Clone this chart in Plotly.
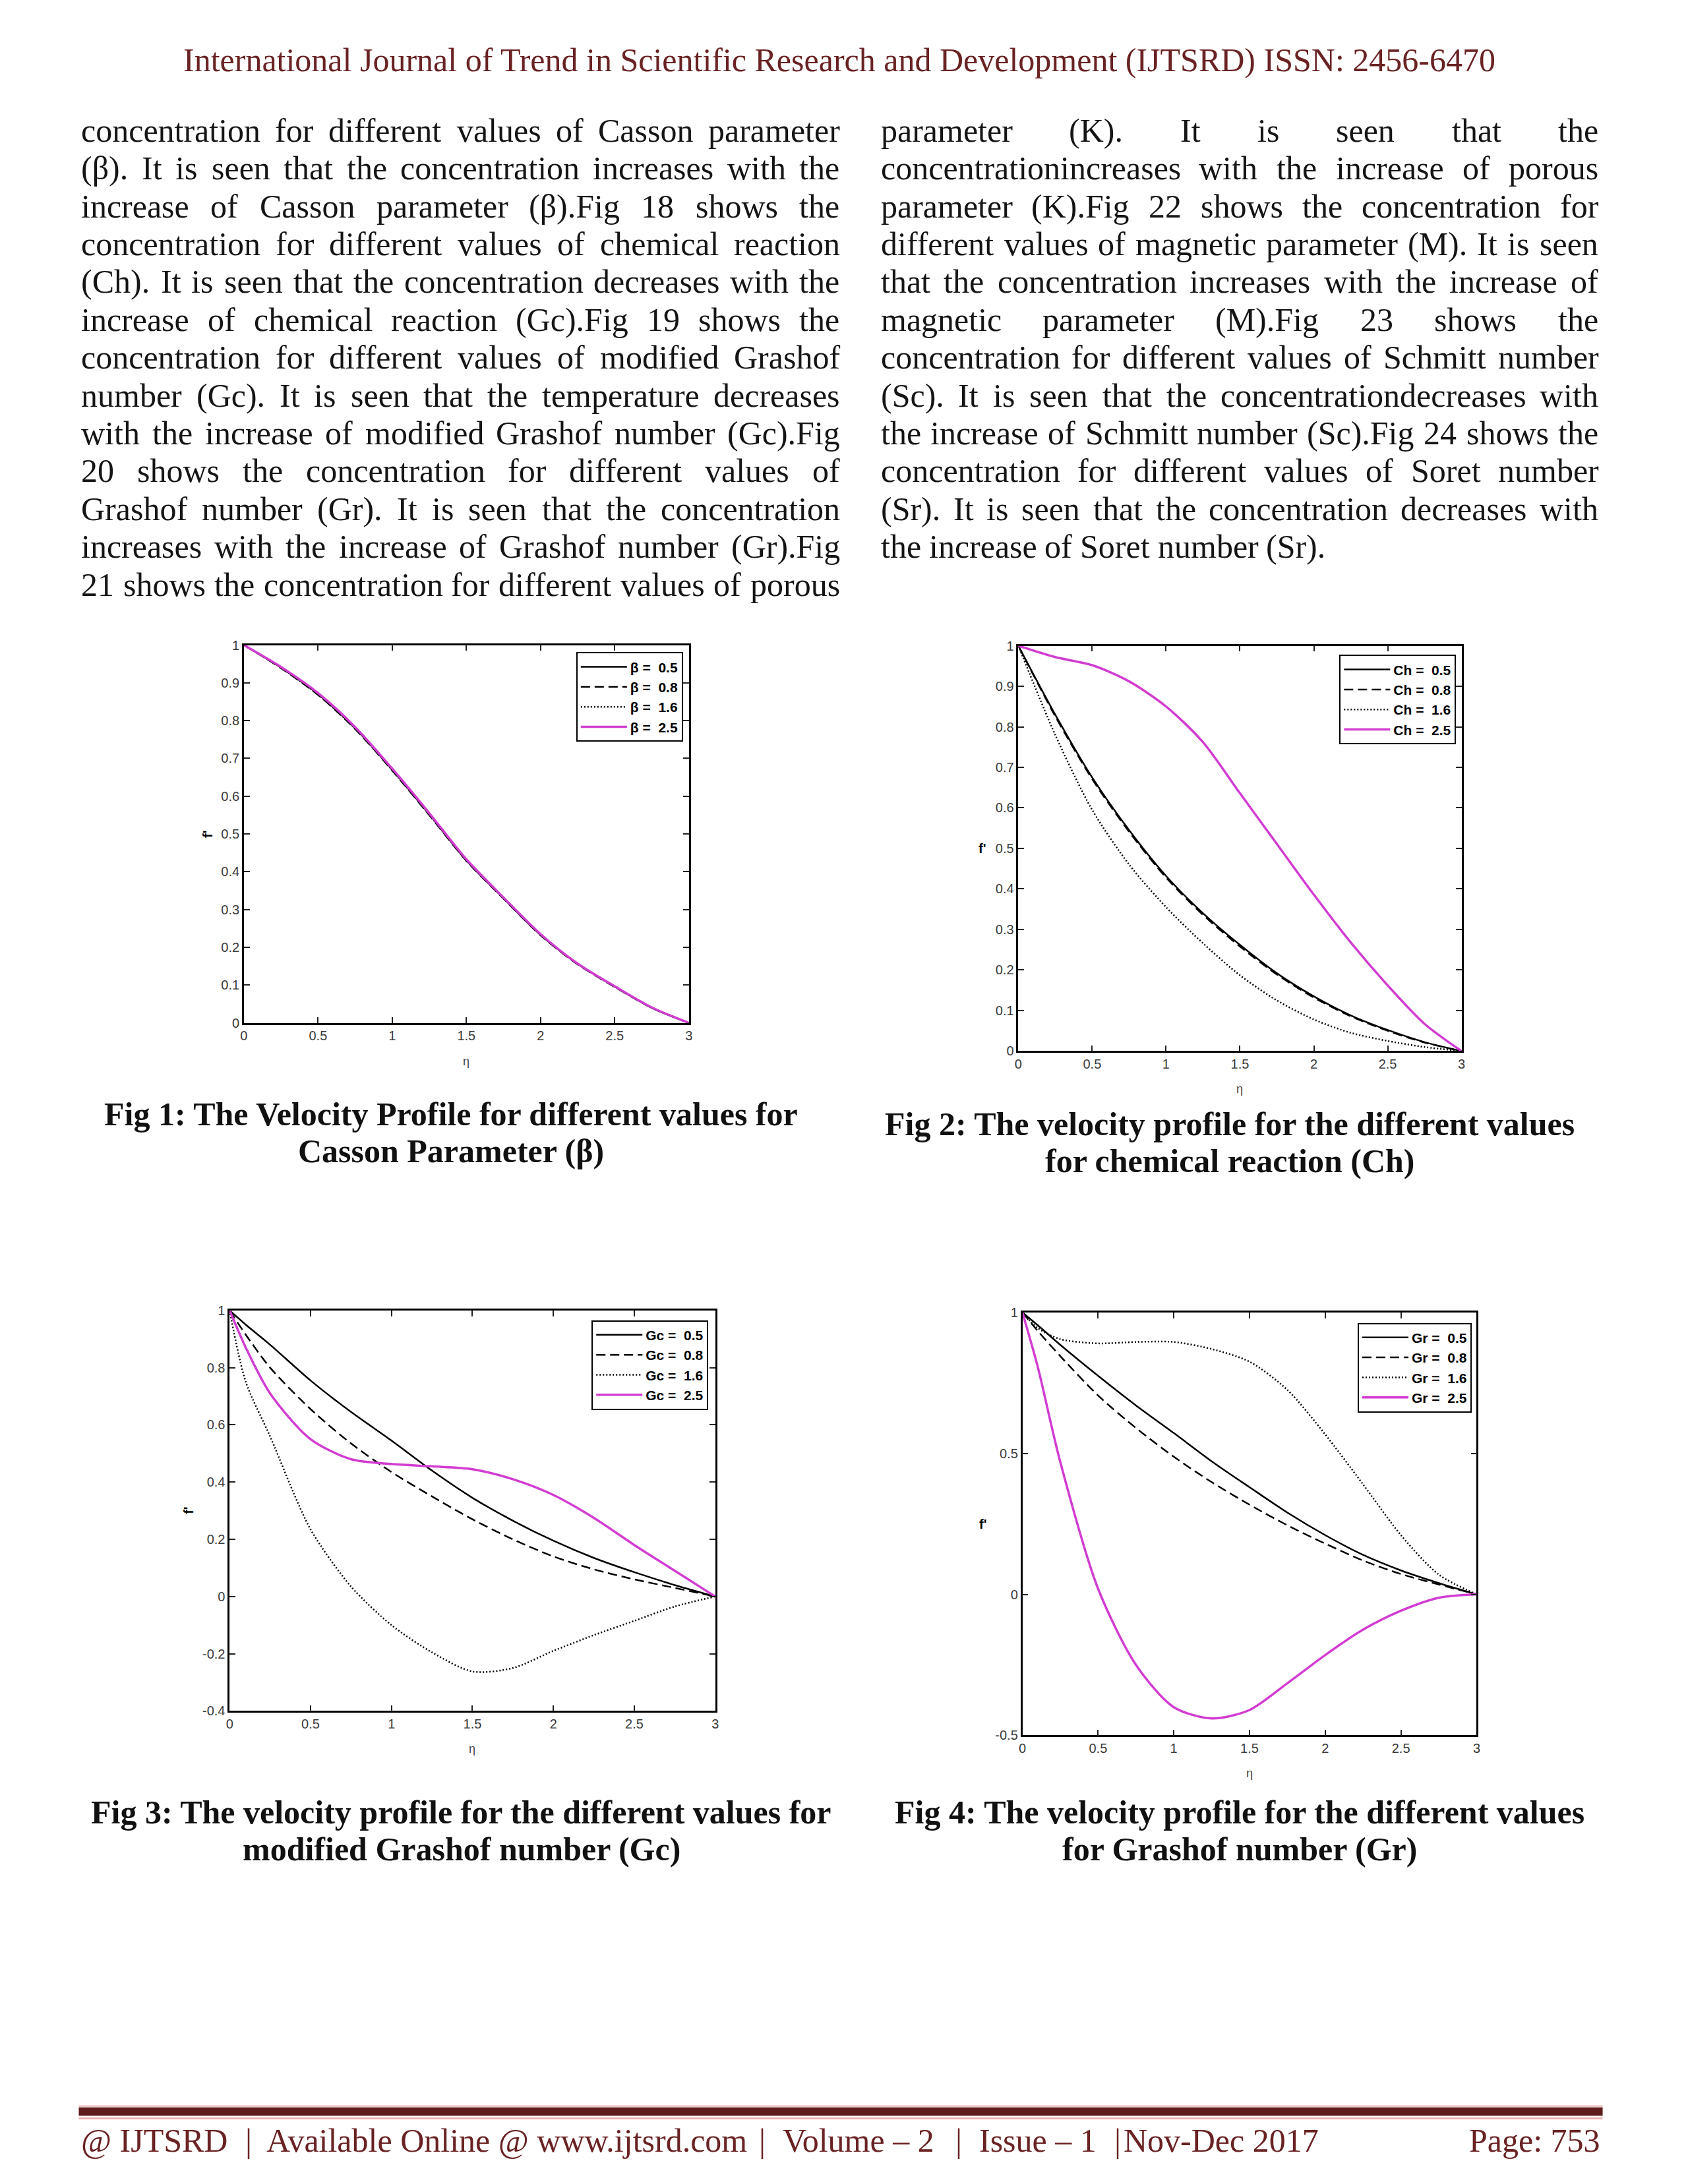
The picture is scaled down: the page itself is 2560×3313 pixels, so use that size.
import plotly.graph_objects as go

# ---------------- DATA ----------------
ETA_A = [0, 0.25, 0.5, 0.75, 1, 1.25, 1.5, 1.75, 2, 2.25, 2.5, 2.75, 3]
ETA_B = [0, 0.1, 0.25, 0.5, 0.75, 1, 1.25, 1.5, 1.75, 2, 2.25, 2.5, 2.75, 3]

# Fig 1 : Casson parameter beta
BETA_LABELS = ["β =  0.5", "β =  0.8", "β =  1.6", "β =  2.5"]
BETA_05 = [1.0, 0.940, 0.870, 0.780, 0.670, 0.552, 0.430, 0.330, 0.233, 0.156, 0.096, 0.040, 0.0]
BETA_08 = [1.0, 0.939, 0.868, 0.778, 0.668, 0.550, 0.429, 0.329, 0.232, 0.155, 0.095, 0.040, 0.0]
BETA_16 = [1.0, 0.940, 0.869, 0.779, 0.669, 0.551, 0.430, 0.330, 0.233, 0.156, 0.096, 0.040, 0.0]
BETA_25 = [1.0, 0.942, 0.873, 0.783, 0.673, 0.555, 0.433, 0.332, 0.235, 0.157, 0.097, 0.041, 0.0]

# Fig 2 : chemical reaction Ch
CH_LABELS = ["Ch =  0.5", "Ch =  0.8", "Ch =  1.6", "Ch =  2.5"]
CH_05 = [1.0, 0.830, 0.675, 0.545, 0.432, 0.340, 0.262, 0.192, 0.135, 0.088, 0.052, 0.022, 0.0]
CH_08 = [1.0, 0.826, 0.671, 0.541, 0.428, 0.336, 0.258, 0.189, 0.132, 0.086, 0.050, 0.021, 0.0]
CH_16 = [1.0, 0.780, 0.595, 0.460, 0.355, 0.266, 0.187, 0.125, 0.078, 0.045, 0.025, 0.010, 0.0]
CH_25 = [1.0, 0.972, 0.952, 0.912, 0.850, 0.762, 0.636, 0.511, 0.386, 0.268, 0.162, 0.067, 0.0]

# Fig 3 : modified Grashof number Gc
GC_LABELS = ["Gc =  0.5", "Gc =  0.8", "Gc =  1.6", "Gc =  2.5"]
GC_05 = [1.0, 0.950, 0.880, 0.755, 0.645, 0.545, 0.440, 0.345, 0.265, 0.195, 0.135, 0.085, 0.040, 0.0]
GC_08 = [1.0, 0.915, 0.800, 0.655, 0.535, 0.435, 0.350, 0.270, 0.200, 0.140, 0.095, 0.060, 0.030, 0.0]
GC_16 = [1.0, 0.750, 0.560, 0.235, 0.035, -0.100, -0.195, -0.262, -0.250, -0.190, -0.135, -0.085, -0.035, 0.0]
GC_25 = [1.0, 0.870, 0.710, 0.550, 0.480, 0.463, 0.455, 0.445, 0.410, 0.355, 0.275, 0.180, 0.090, 0.0]

# Fig 4 : Grashof number Gr
GR_LABELS = ["Gr =  0.5", "Gr =  0.8", "Gr =  1.6", "Gr =  2.5"]
GR_05 = [1.0, 0.955, 0.885, 0.775, 0.670, 0.572, 0.472, 0.380, 0.290, 0.210, 0.140, 0.085, 0.040, 0.0]
GR_08 = [1.0, 0.935, 0.845, 0.705, 0.590, 0.488, 0.398, 0.318, 0.245, 0.180, 0.120, 0.072, 0.035, 0.0]
GR_16 = [1.0, 0.945, 0.905, 0.890, 0.895, 0.895, 0.870, 0.825, 0.725, 0.567, 0.390, 0.210, 0.070, 0.0]
GR_25 = [1.0, 0.810, 0.470, 0.020, -0.250, -0.400, -0.440, -0.410, -0.315, -0.215, -0.125, -0.058, -0.012, 0.0]

X_TICKS = [0, 0.5, 1, 1.5, 2, 2.5, 3]
X_TICK_TEXT = ["0", "0.5", "1", "1.5", "2", "2.5", "3"]
Y_TICKS_01 = [0, 0.1, 0.2, 0.3, 0.4, 0.5, 0.6, 0.7, 0.8, 0.9, 1]
Y_TICK_TEXT_01 = ["0", "0.1", "0.2", "0.3", "0.4", "0.5", "0.6", "0.7", "0.8", "0.9", "1"]
Y_TICKS_GC = [-0.4, -0.2, 0, 0.2, 0.4, 0.6, 0.8, 1]
Y_TICK_TEXT_GC = ["-0.4", "-0.2", "0", "0.2", "0.4", "0.6", "0.8", "1"]
Y_TICKS_GR = [-0.5, 0, 0.5, 1]
Y_TICK_TEXT_GR = ["-0.5", "0", "0.5", "1"]

HEADER = "International Journal of Trend in Scientific Research and Development (IJTSRD) ISSN: 2456-6470"

LEFT_LINES = [
    "concentration for different values of Casson parameter",
    "(β). It is seen that the concentration increases with the",
    "increase of Casson parameter (β).Fig 18 shows the",
    "concentration for different values of chemical reaction",
    "(Ch). It is seen that the concentration decreases with the",
    "increase of chemical reaction (Gc).Fig 19 shows the",
    "concentration for different values of modified Grashof",
    "number (Gc). It is seen that the temperature decreases",
    "with the increase of modified Grashof number (Gc).Fig",
    "20 shows the concentration for different values of",
    "Grashof number (Gr). It is seen that the concentration",
    "increases with the increase of Grashof number (Gr).Fig",
    "21 shows the concentration for different values of porous",
]
RIGHT_LINES = [
    "parameter (K). It is seen that the",
    "concentrationincreases with the increase of porous",
    "parameter (K).Fig 22 shows the concentration for",
    "different values of magnetic parameter (M). It is seen",
    "that the concentration increases with the increase of",
    "magnetic parameter (M).Fig 23 shows the",
    "concentration for different values of Schmitt number",
    "(Sc). It is seen that the concentrationdecreases with",
    "the increase of Schmitt number (Sc).Fig 24 shows the",
    "concentration for different values of Soret number",
    "(Sr). It is seen that the concentration decreases with",
    "the increase of Soret number (Sr).",
]

CAPTIONS = [
    ("Fig 1: The Velocity Profile for different values for", "Casson Parameter (β)"),
    ("Fig 2: The velocity profile for the different values", "for chemical reaction (Ch)"),
    ("Fig 3: The velocity profile for the different values for", "modified Grashof number (Gc)"),
    ("Fig 4: The velocity profile for the different values", "for Grashof number (Gr)"),
]

FOOTER_SEGMENTS = ["@ IJTSRD", "|", "Available Online @ www.ijtsrd.com", "|", "Volume – 2", "|",
                   "Issue – 1", "|", "Nov-Dec 2017"]
FOOTER_PAGE = "Page: 753"

# ---------------- LAYOUT HELPERS ----------------
W, H = 2560, 3313


def fx(p):
    return p / W


def fy(p):
    return 1 - p / H


MAGENTA = "#d23cd2"
MAROON = "#6a2222"
SERIF = "Liberation Serif"
SANS = "Liberation Sans"
TEXT_DY = -6  # vertical correction for annotation anchors

# Times-compatible advance widths (per 1000 em)
CW = {}
CW.update(dict(zip("abcdefghijklmnopqrstuvwxyz",
                   [444, 500, 444, 500, 444, 333, 500, 500, 278, 278, 500, 278, 778, 500, 500, 500, 500, 333,
                    389, 278, 500, 500, 722, 500, 500, 444])))
CW.update(dict(zip("ABCDEFGHIJKLMNOPQRSTUVWXYZ",
                   [722, 667, 667, 722, 611, 556, 722, 722, 333, 389, 722, 611, 889, 722, 722, 556, 722, 667,
                    556, 611, 722, 722, 944, 722, 722, 611])))
CW.update({d: 500 for d in "0123456789"})
CW.update({" ": 250, "(": 333, ")": 333, ".": 250, ",": 250, ":": 278, "-": 333, "β": 500})


def tw(s, size):
    return sum(CW.get(c, 500) for c in s) * size / 1000.0


BODY_SIZE = 50

panels = [
    dict(box=(365.6, 974, 1043.6, 1551), ticks=(Y_TICKS_01, Y_TICK_TEXT_01), yr=[0, 1],
         legend=(1034.7, 985), ylab_shift=-68, ylab_angle=-90,
         series=[(BETA_LABELS[0], ETA_A, BETA_05), (BETA_LABELS[1], ETA_A, BETA_08),
                 (BETA_LABELS[2], ETA_A, BETA_16), (BETA_LABELS[3], ETA_A, BETA_25)]),
    dict(box=(1545.6, 975, 2221, 1594), ticks=(Y_TICKS_01, Y_TICK_TEXT_01), yr=[0, 1],
         legend=(2212.7, 989), ylab_shift=-62, ylab_angle=0,
         series=[(CH_LABELS[0], ETA_A, CH_05), (CH_LABELS[1], ETA_A, CH_08),
                 (CH_LABELS[2], ETA_A, CH_16), (CH_LABELS[3], ETA_A, CH_25)]),
    dict(box=(343.8, 1990, 1083.8, 2601.7), ticks=(Y_TICKS_GC, Y_TICK_TEXT_GC), yr=[-0.4, 1],
         legend=(1073.3, 2005), ylab_shift=-76, ylab_angle=-90,
         series=[(GC_LABELS[0], ETA_B, GC_05), (GC_LABELS[1], ETA_B, GC_08),
                 (GC_LABELS[2], ETA_B, GC_16), (GC_LABELS[3], ETA_B, GC_25)]),
    dict(box=(1551.8, 1993, 2244, 2639), ticks=(Y_TICKS_GR, Y_TICK_TEXT_GR), yr=[-0.5, 1],
         legend=(2236.5, 2009), ylab_shift=-68, ylab_angle=0,
         series=[(GR_LABELS[0], ETA_B, GR_05), (GR_LABELS[1], ETA_B, GR_08),
                 (GR_LABELS[2], ETA_B, GR_16), (GR_LABELS[3], ETA_B, GR_25)]),
]

STYLES = [
    dict(color="black", width=2.5, dash="solid"),
    dict(color="black", width=2.5, dash="14px,7px"),
    dict(color="black", width=2.5, dash="2px,3px"),
    dict(color=MAGENTA, width=3.5, dash="solid"),
]

fig = go.Figure()
annotations = []
layout_upd = {}

for k, p in enumerate(panels, start=1):
    sfx = "" if k == 1 else str(k)
    xa, ya, lg = "x" + sfx, "y" + sfx, "legend" + sfx
    for j, (name, xs, ys) in enumerate(p["series"]):
        st = STYLES[j]
        fig.add_trace(go.Scatter(
            x=xs, y=ys, mode="lines", name=name,
            line=dict(color=st["color"], width=st["width"], dash=st["dash"], shape="spline", smoothing=0.8),
            xaxis=xa, yaxis=ya, legend=lg, legendgroup=f"g{k}{j}", showlegend=True,
            hoverinfo="skip"))
    x0, y0, x1, y1 = p["box"]
    axis_common = dict(showline=True, linecolor="black", linewidth=2.5, mirror="ticks", ticks="inside",
                       ticklen=9, tickwidth=1.5, tickcolor="#222222", showgrid=False, zeroline=False,
                       tickfont=dict(family=SANS, size=20, color="#3a3a3a"))
    layout_upd["xaxis" + sfx] = dict(axis_common, domain=[fx(x0), fx(x1)], range=[0, 3],
                                     anchor=ya, tickvals=X_TICKS, ticktext=X_TICK_TEXT)
    layout_upd["yaxis" + sfx] = dict(axis_common, domain=[fy(y1), fy(y0)], range=p["yr"],
                                     anchor=xa, tickvals=p["ticks"][0], ticktext=p["ticks"][1])
    lx, ly = p["legend"]
    layout_upd["legend" + sfx] = dict(x=fx(lx), y=fy(ly), xanchor="right", yanchor="top",
                                      bgcolor="white", bordercolor="black", borderwidth=2,
                                      font=dict(family=SANS, size=21, color="black", weight="bold"),
                                      itemwidth=70, tracegroupgap=6, traceorder="normal")
    # axis labels
    annotations.append(dict(text="η", xref=xa + " domain", yref=ya + " domain", x=0.5, y=0,
                            yshift=-58, showarrow=False, yanchor="middle",
                            font=dict(family=SANS, size=18, color="#444444")))
    annotations.append(dict(text="f'", xref=xa + " domain", yref=ya + " domain", x=0, y=0.5,
                            xshift=p["ylab_shift"], showarrow=False, textangle=p["ylab_angle"],
                            font=dict(family=SANS, size=20, color="black", weight="bold")))

# header
annotations.append(dict(text=HEADER, xref="paper", yref="paper", x=fx(1273), y=fy(91 + TEXT_DY - 4),
                        showarrow=False, xanchor="center", yanchor="middle",
                        font=dict(family=SERIF, size=50, color=MAROON)))


# justified body text
def place_lines(lines, left, right, top, step, justify_last):
    for i, line in enumerate(lines):
        words = line.split(" ")
        widths = [tw(w, BODY_SIZE) for w in words]
        last = (i == len(lines) - 1)
        if len(words) > 1 and (not last or justify_last):
            gap = (right - left - sum(widths)) / (len(words) - 1)
        else:
            gap = tw(" ", BODY_SIZE)
        x = left
        for w, wd in zip(words, widths):
            annotations.append(dict(text=w, xref="paper", yref="paper", x=fx(x - 2),
                                    y=fy(top + i * step + TEXT_DY),
                                    showarrow=False, xanchor="left", yanchor="middle",
                                    font=dict(family=SERIF, size=BODY_SIZE, color="#151515")))
            x += wd + gap


place_lines(LEFT_LINES, 118, 1273, 194, 57.8, True)
place_lines(RIGHT_LINES, 1336, 2429, 194, 57.8, False)

# captions
CAP_POS = [(681, 1696), (1868, 1711), (697, 2762), (1883, 2762)]
for (l1, l2), (cx, cy) in zip(CAPTIONS, CAP_POS):
    for n, t in enumerate((l1, l2)):
        annotations.append(dict(text=t, xref="paper", yref="paper", x=fx(cx), y=fy(cy + n * 57 + TEXT_DY),
                                showarrow=False, xanchor="center", yanchor="middle",
                                font=dict(family=SERIF, size=50, color="#111111", weight="bold")))

# footer
FOOT_X = [118, 368, 400, 1150, 1187, 1450, 1486, 1692, 1706]
for seg, x in zip(FOOTER_SEGMENTS, FOOT_X):
    annotations.append(dict(text=seg, xref="paper", yref="paper", x=fx(x - 2), y=fy(3264 + TEXT_DY),
                            showarrow=False, xanchor="left", yanchor="middle",
                            font=dict(family=SERIF, size=50, color=MAROON)))
annotations.append(dict(text=FOOTER_PAGE, xref="paper", yref="paper", x=fx(2434), y=fy(3264 + TEXT_DY),
                        showarrow=False, xanchor="right", yanchor="middle",
                        font=dict(family=SERIF, size=50, color=MAROON)))

shapes = [
    dict(type="line", xref="paper", yref="paper", x0=fx(114), x1=fx(2436), y0=fy(3205), y1=fy(3205),
         line=dict(color="#efb3b3", width=2)),
    dict(type="rect", xref="paper", yref="paper", x0=fx(114), x1=fx(2436), y0=fy(3220), y1=fy(3207),
         line=dict(width=0), fillcolor="#5e1c1c"),
    dict(type="line", xref="paper", yref="paper", x0=fx(114), x1=fx(2436), y0=fy(3224), y1=fy(3224),
         line=dict(color="#e9a8a8", width=2.5)),
]

fig.update_layout(
    width=W, height=H, autosize=False,
    margin=dict(l=0, r=0, t=0, b=0),
    paper_bgcolor="white", plot_bgcolor="white",
    annotations=annotations, shapes=shapes,
    **layout_upd,
)

fig.write_html("out.html", config={"displayModeBar": False},
               post_script="document.body.style.margin='0';document.body.style.overflow='hidden';")
